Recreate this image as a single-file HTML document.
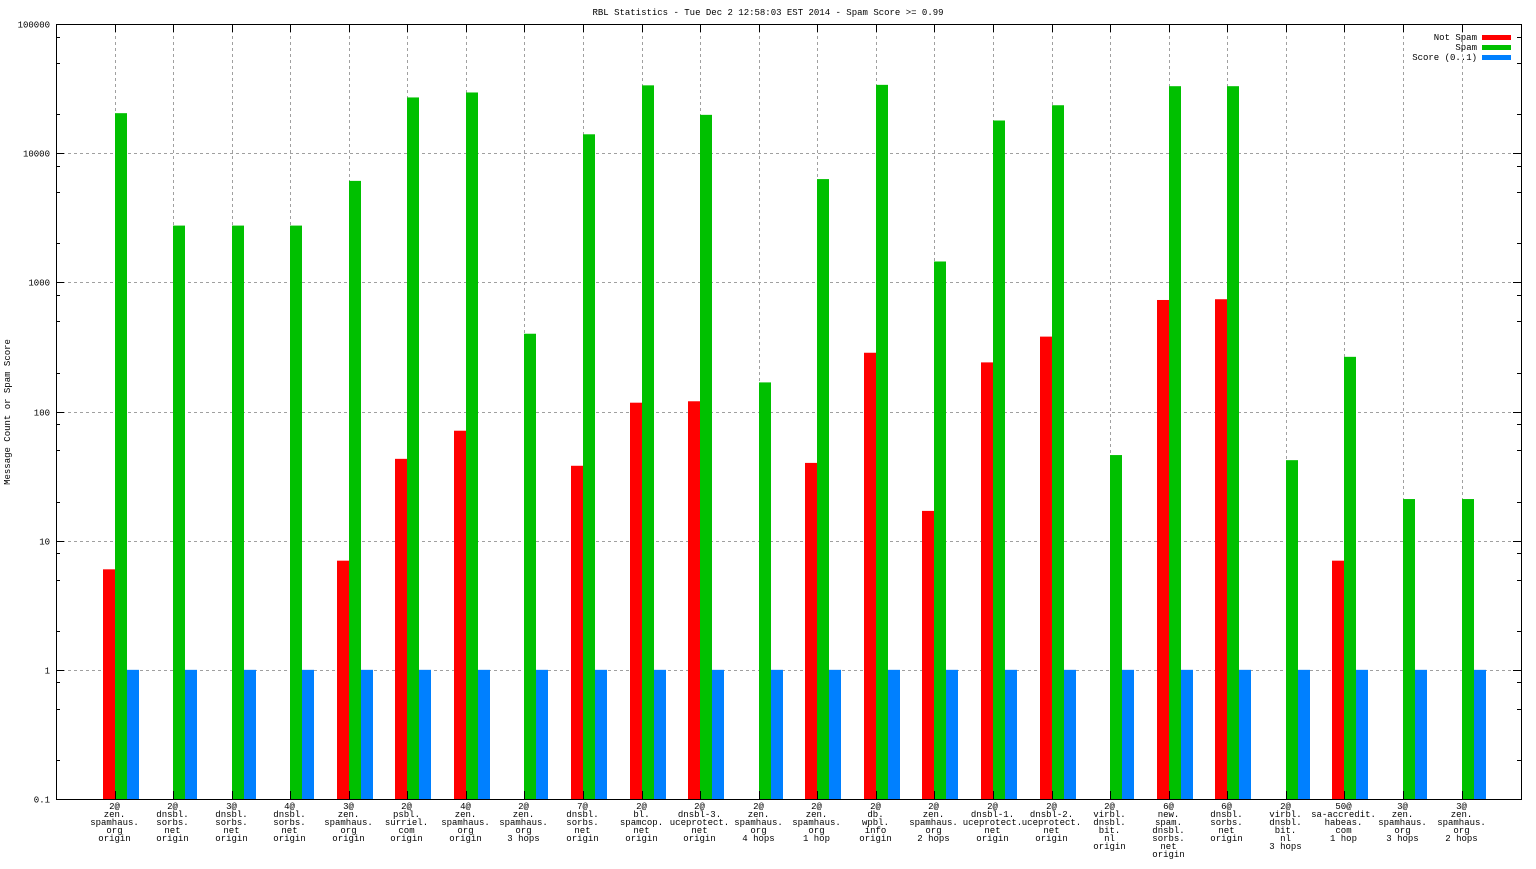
<!DOCTYPE html>
<html><head><meta charset="utf-8"><style>
html,body{margin:0;padding:0;background:#fff;}
svg text{font-family:"Liberation Mono","DejaVu Sans Mono",monospace;font-size:9px;fill:#000;}
</style></head><body>
<svg id="chart" width="1536" height="864" xmlns="http://www.w3.org/2000/svg">
<text x="768" y="15" text-anchor="middle">RBL Statistics - Tue Dec  2 12:58:03 EST 2014 - Spam Score &gt;= 0.99</text>
<text transform="translate(10,412) rotate(-90)" text-anchor="middle">Message Count or Spam Score</text>
<g id="grid"></g>
<g id="bars"></g>
<g id="axes"></g>
<g id="legend"></g>
</svg>
<script>
const categories = [
 ["2@","zen.","spamhaus.","org","origin"],
 ["2@","dnsbl.","sorbs.","net","origin"],
 ["3@","dnsbl.","sorbs.","net","origin"],
 ["4@","dnsbl.","sorbs.","net","origin"],
 ["3@","zen.","spamhaus.","org","origin"],
 ["2@","psbl.","surriel.","com","origin"],
 ["4@","zen.","spamhaus.","org","origin"],
 ["2@","zen.","spamhaus.","org","3 hops"],
 ["7@","dnsbl.","sorbs.","net","origin"],
 ["2@","bl.","spamcop.","net","origin"],
 ["2@","dnsbl-3.","uceprotect.","net","origin"],
 ["2@","zen.","spamhaus.","org","4 hops"],
 ["2@","zen.","spamhaus.","org","1 hop"],
 ["2@","db.","wpbl.","info","origin"],
 ["2@","zen.","spamhaus.","org","2 hops"],
 ["2@","dnsbl-1.","uceprotect.","net","origin"],
 ["2@","dnsbl-2.","uceprotect.","net","origin"],
 ["2@","virbl.","dnsbl.","bit.","nl","origin"],
 ["6@","new.","spam.","dnsbl.","sorbs.","net","origin"],
 ["6@","dnsbl.","sorbs.","net","origin"],
 ["2@","virbl.","dnsbl.","bit.","nl","3 hops"],
 ["50@","sa-accredit.","habeas.","com","1 hop"],
 ["3@","zen.","spamhaus.","org","3 hops"],
 ["3@","zen.","spamhaus.","org","2 hops"]
];
const notSpam = [6,0,0,0,7,43,71,0,38,117,120,0,40,285,17,240,380,0,730,740,0,7,0,0];
const spam = [20400,2750,2750,2750,6100,27000,29500,400,14000,33500,19800,168,6300,33800,1450,17900,23500,46,33000,33000,42,265,21,21];
const score = [1,1,1,1,1,1,1,1,1,1,1,1,1,1,1,1,1,1,1,1,1,1,1,1];
const yTickValues = [0.1,1,10,100,1000,10000,100000];
const yTickLabels = ["0.1","1","10","100","1000","10000","100000"];
const seriesNames = ["Not Spam","Spam","Score (0..1)"];

const NS="http://www.w3.org/2000/svg";
const L=56,R=1521,T=24,B=799;
const yMin=0.1,yMax=100000;
function y(v){return B-(Math.log10(v)-Math.log10(yMin))/(Math.log10(yMax)-Math.log10(yMin))*(B-T);}
function x(i){return 114.5+i*(1461.5-114.5)/(categories.length-1);}
function mk(tag,attrs,parent){const e=document.createElementNS(NS,tag);for(const k in attrs)e.setAttribute(k,attrs[k]);parent.appendChild(e);return e;}
const grid=document.getElementById('grid'),bars=document.getElementById('bars'),axes=document.getElementById('axes'),legend=document.getElementById('legend');
const colors=["#ff0000","#00c000","#0080ff"];
// horizontal grid + y ticks
yTickValues.forEach((v,k)=>{
 const yy=Math.round(y(v))+0.5;
 if(k>0&&k<yTickValues.length-1){const g=mk('line',{x1:L,x2:R,y1:yy,y2:yy,stroke:'#a0a0a0','stroke-dasharray':'3,3'},grid);
 }
 const t=mk('text',{x:50,y:yy+3,'text-anchor':'end'},axes);t.textContent=yTickLabels[k];
 
 mk('line',{x1:L,x2:L+8,y1:yy,y2:yy,stroke:'#000'},axes);
 mk('line',{x1:R-8,x2:R,y1:yy,y2:yy,stroke:'#000'},axes);
 if(k<yTickValues.length-1){[2,5,8].forEach(m=>{const my=Math.round(y(v*m))+0.5;
  mk('line',{x1:L,x2:L+4,y1:my,y2:my,stroke:'#000'},axes);
  mk('line',{x1:R-4,x2:R,y1:my,y2:my,stroke:'#000'},axes);});}
});
// vertical grid + x labels
categories.forEach((c,i)=>{
 const xx=Math.round(x(i))+0.5;
 const g=mk('line',{x1:xx,x2:xx,y1:T,y2:B,stroke:'#a0a0a0','stroke-dasharray':'3,3'},grid);
 
 mk('line',{x1:xx,x2:xx,y1:B-8,y2:B,stroke:'#000'},axes);
 mk('line',{x1:xx,x2:xx,y1:T,y2:T+8,stroke:'#000'},axes);
 c.forEach((ln,j)=>{const t=mk('text',{x:xx-1,y:809+j*8,'text-anchor':'middle'},axes);t.textContent=ln;
  });
});
// bars
[notSpam,spam,score].forEach((s,si)=>{
 s.forEach((v,i)=>{ if(v<=0)return;
  const x0=Math.round(x(i))+(si-1)*12;const yy=y(v);
  const r=mk('rect',{x:x0,y:yy,width:12,height:B-yy,fill:colors[si]},bars);
  
  
 });
});
// border
const bd=mk('rect',{x:L+0.5,y:T+0.5,width:R-L,height:B-T,fill:'none',stroke:'#000'},axes);

// legend
seriesNames.forEach((n,k)=>{
 const yy=37+k*10;
 const t=mk('text',{x:1477,y:yy+3,'text-anchor':'end'},legend);t.textContent=n;
 
 const r=mk('rect',{x:1482,y:yy-2,width:29,height:5,fill:colors[k]},legend);
 
});
</script>
</body></html>
